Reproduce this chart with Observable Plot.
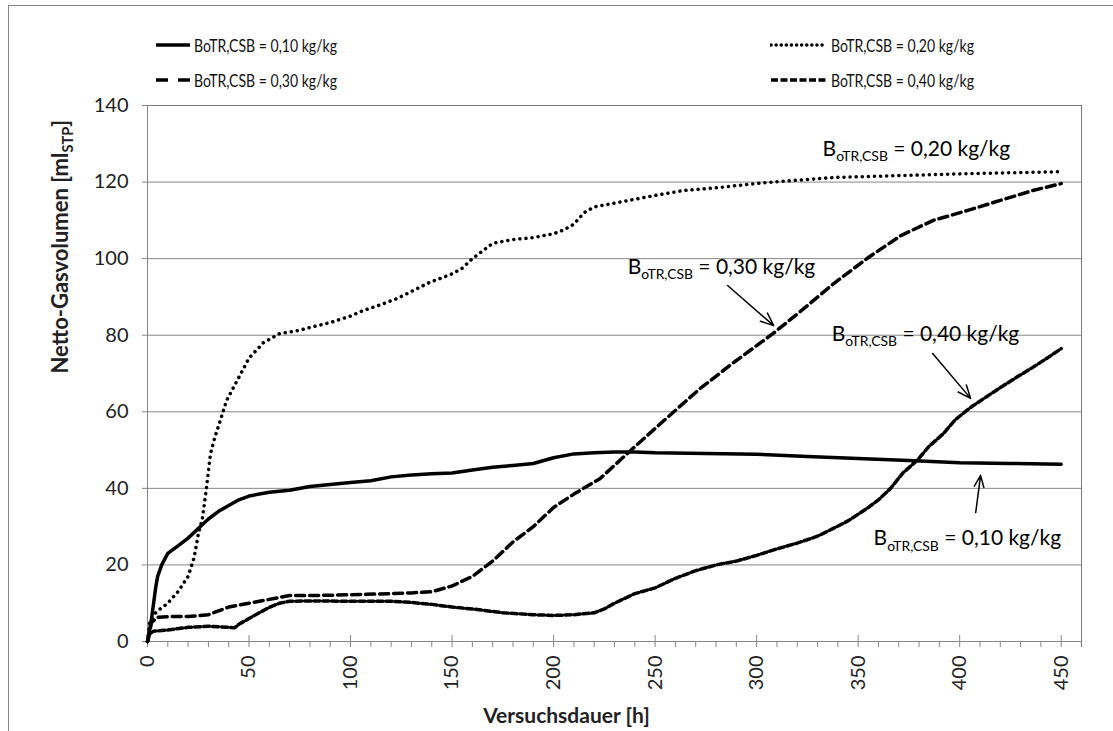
<!DOCTYPE html>
<html><head><meta charset="utf-8">
<script src="https://cdn.jsdelivr.net/npm/d3@7"></script>
<script src="https://cdn.jsdelivr.net/npm/@observablehq/plot@0.6"></script>
<style>
body{margin:0;background:#fff;font-family:Lato,"Open Sans",sans-serif;}
#wrap{position:relative;width:1113px;height:731px;overflow:hidden;background:#fff;}
#frame{position:absolute;left:8px;top:5px;width:1300px;height:900px;border-left:1px solid #868686;border-top:1px solid #868686;pointer-events:none;z-index:2}
#legend{position:relative;height:95px;font-size:18px;color:#111;}
.item{position:absolute;display:flex;align-items:center;height:22px;white-space:nowrap;}
.item svg{display:block}
.item span{display:inline-block;transform:scaleX(0.78);transform-origin:left center;}
#chart{position:relative}
</style></head><body>
<div id="wrap"><div id="frame"></div><div id="legend"></div><div id="chart"></div></div>
<script>
// ---------- data ----------
const seriesLabels = ["BoTR,CSB = 0,10 kg/kg","BoTR,CSB = 0,20 kg/kg","BoTR,CSB = 0,30 kg/kg","BoTR,CSB = 0,40 kg/kg"];

const hours010 = [0,1,2,3,4,5,7,10,15,20,25,30,35,40,45,50,60,70,80,90,100,110,120,130,140,150,160,170,180,190,200,210,220,230,240,250,275,300,325,350,375,400,425,450];
const gas010   = [0,3,6,10,14,17,20,23,25,27,29.5,32,34,35.5,37,38,39,39.5,40.5,41,41.5,42,43,43.5,43.8,44,44.8,45.5,46,46.5,48,49,49.3,49.5,49.5,49.3,49.1,48.9,48.3,47.8,47.3,46.7,46.5,46.3];

const hours020 = [0,1,3,5,10,15,20,23,25,27,29,31,33,36,39,44,50,57,65,74,80,90,100,106,115,123,139,150,155,160,165,170,180,190,200,205,210,215,220,225,240,250,264,280,305,338,371,404,430,450];
const gas020   = [0,5,7,8,10,13,17,22,28,32,40,49,53,58,63,68,74,78,80.4,81.2,82,83.3,85,86.4,88,89.6,93.8,96,97.5,100,102,104,105,105.5,106.5,107.5,109,112,113.5,114,115.5,116.5,117.8,118.5,119.9,121.2,121.7,122.2,122.5,122.7];

const hours030 = [0,2,5,10,20,30,35,40,50,60,70,80,100,120,130,140,150,160,170,180,190,200,210,223,239,256,272,289,308,322,338,355,371,387,404,420,436,450];
const gas030   = [0,5,6.3,6.5,6.5,7,8,9,10,11,12,12,12.2,12.5,12.7,13,14.5,17,21,26,30,35,38.5,42.6,50.4,58.5,66,73,80.4,86.4,93.5,100.3,106,110,112.6,115.2,117.8,119.6];

const hours040 = [0,1,3,10,20,30,40,43,45,50,55,60,65,70,80,100,120,130,140,150,160,175,190,200,210,220,225,230,240,250,260,270,280,290,300,310,320,330,338,345,355,360,366,372,379,385,392,398,405,412,420,428,436,443,450];
const gas040   = [0,2,2.7,3,3.7,4,3.7,3.6,4.5,6,7.5,8.9,10,10.5,10.6,10.5,10.5,10.2,9.7,9,8.5,7.5,7,6.8,7,7.5,8.5,10,12.5,14,16.5,18.5,20,21,22.5,24.2,25.7,27.5,29.6,31.5,35,37,40,44,47.3,51,54.3,58,61,63.5,66.3,69,71.6,74,76.5];

const yTicks = [0,20,40,60,80,100,120,140];
const xMajor = [0,50,100,150,200,250,300,350,400,450];
const xMinor = d3.range(0,461,10).filter(d => d % 50 !== 0);

const annoText = ["B§oTR,CSB§ = 0,20 kg/kg","B§oTR,CSB§ = 0,30 kg/kg","B§oTR,CSB§ = 0,40 kg/kg","B§oTR,CSB§ = 0,10 kg/kg"];
const annoX = [332.5,236.5,337,357.6];
const annoY = [126.9,96.1,78.6,25.1];
const arrowX1 = [285.7,386.7,407.9];
const arrowY1 = [93.0,75.2,33.7];
const arrowX2 = [308.4,405.4,410.3];
const arrowY2 = [82.5,63.5,43.4];

// ---------- build ----------
const mk = (h,g) => h.map((x,i)=>({x, y:g[i]}));
const s010 = mk(hours010,gas010), s020 = mk(hours020,gas020), s030 = mk(hours030,gas030), s040 = mk(hours040,gas040);
const annos = annoText.map((t,i)=>({t, x:annoX[i], y:annoY[i]}));
const arrows = arrowX1.map((d,i)=>({x1:d,y1:arrowY1[i],x2:arrowX2[i],y2:arrowY2[i]}));

const styles = [
  {stroke:"#000", strokeWidth:3.5},
  {stroke:"#000", strokeWidth:3.5, strokeDasharray:"0.1,6", strokeLinecap:"round"},
  {stroke:"#000", strokeWidth:3.5, strokeDasharray:"9,5"},
  {stroke:"#000", strokeWidth:3.5, strokeDasharray:"6,3"}
];

const svg = Plot.plot({
  width:1113, height:636,
  marginTop:10, marginBottom:90, marginLeft:147, marginRight:32,
  x:{domain:[0,460]},
  y:{domain:[0,140]},
  style:{background:"none", fontFamily:"Lato, sans-serif", overflow:"visible"},
  marks:[
    Plot.ruleY(yTicks.filter(d=>d>0 && d<140), {y:d=>d, stroke:"#868686", strokeWidth:1}),
    Plot.axisY({ticks:yTicks, tickSize:5, tickPadding:14, fontSize:20, stroke:"#868686", fill:"#222", label:null}),
    Plot.axisX({ticks:xMinor, tickSize:6, tickFormat:()=>"", stroke:"#868686", label:null}),
    Plot.axisX({ticks:xMajor, tickSize:0, tickPadding:14, tickRotate:-90, fontSize:20, fill:"#222", label:null}),
    Plot.ruleX(xMajor, {x:d=>d, y1:0, y2:0, insetTop:-6, insetBottom:-6, stroke:"#868686"}),
    Plot.frame({stroke:"#7a7a7a"}),
    Plot.ruleY([0], {stroke:"#868686"}),
    Plot.ruleX([0], {stroke:"#868686"}),
    Plot.line(s010, {x:"x", y:"y", ...styles[0]}),
    Plot.line(s020, {x:"x", y:"y", ...styles[1]}),
    Plot.line(s030, {x:"x", y:"y", ...styles[2]}),
    Plot.line(s040, {x:"x", y:"y", ...styles[3]}),
    Plot.arrow(arrows, {x1:"x1", y1:"y1", x2:"x2", y2:"y2", stroke:"#000", strokeWidth:1.5, headLength:14, headAngle:45}),
    Plot.text(annos, {x:"x", y:"y", text:"t", textAnchor:"start", lineAnchor:"bottom", fontSize:21, fill:"#000"}),
    Plot.text(["Netto-Gasvolumen [ml§STP§]"], {frameAnchor:"left", dx:-87, rotate:-90, fontSize:22, fontWeight:"bold", fill:"#222"}),
    Plot.text(["Versuchsdauer [h]"], {frameAnchor:"bottom", dx:-48, dy:81, lineAnchor:"bottom", fontSize:21, fontWeight:"bold", fill:"#222"})
  ]
});
document.getElementById("chart").appendChild(svg);

// subscripts
svg.querySelectorAll("text").forEach(t=>{
  const s = t.textContent;
  if(!s.includes("§")) return;
  const [a,b,c] = s.split("§");
  const fs = parseFloat(getComputedStyle(t).fontSize) || 20;
  while(t.firstChild) t.removeChild(t.firstChild);
  const ns = "http://www.w3.org/2000/svg";
  const t1 = document.createElementNS(ns,"tspan"); t1.textContent = a;
  const t2 = document.createElementNS(ns,"tspan"); t2.textContent = b;
  t2.setAttribute("font-size", (fs*0.66).toFixed(1)); t2.setAttribute("dy", (fs*0.25).toFixed(1));
  const t3 = document.createElementNS(ns,"tspan"); t3.textContent = c;
  t3.setAttribute("dy", (-fs*0.25).toFixed(1));
  t.append(t1,t2,t3);
});

// legend
const legend = d3.select("#legend");
const items = [
  {x:155, y:45, w:36, st:styles[0], label:seriesLabels[0]},
  {x:770, y:45, w:58, st:{...styles[1], strokeDasharray:"0.1,5"}, label:seriesLabels[1]},
  {x:155, y:80, w:36, st:{...styles[2], strokeDasharray:"12,10"}, label:seriesLabels[2]},
  {x:770, y:80, w:58, st:{...styles[3], strokeDasharray:"7,2.5"}, label:seriesLabels[3]}
];
items.forEach(it=>{
  const div = legend.append("div").attr("class","item").style("left",it.x+"px").style("top",(it.y-11)+"px");
  const s = div.append("svg").attr("width",it.w).attr("height",22);
  s.append("line").attr("x1",1).attr("x2",it.w-1).attr("y1",11).attr("y2",11)
    .attr("stroke","#000").attr("stroke-width",it.st.strokeWidth)
    .attr("stroke-dasharray",it.st.strokeDasharray||null)
    .attr("stroke-linecap",it.st.strokeLinecap||"butt");
  div.append("span").style("margin-left","3px").text(it.label);
});
</script>
</body></html>
